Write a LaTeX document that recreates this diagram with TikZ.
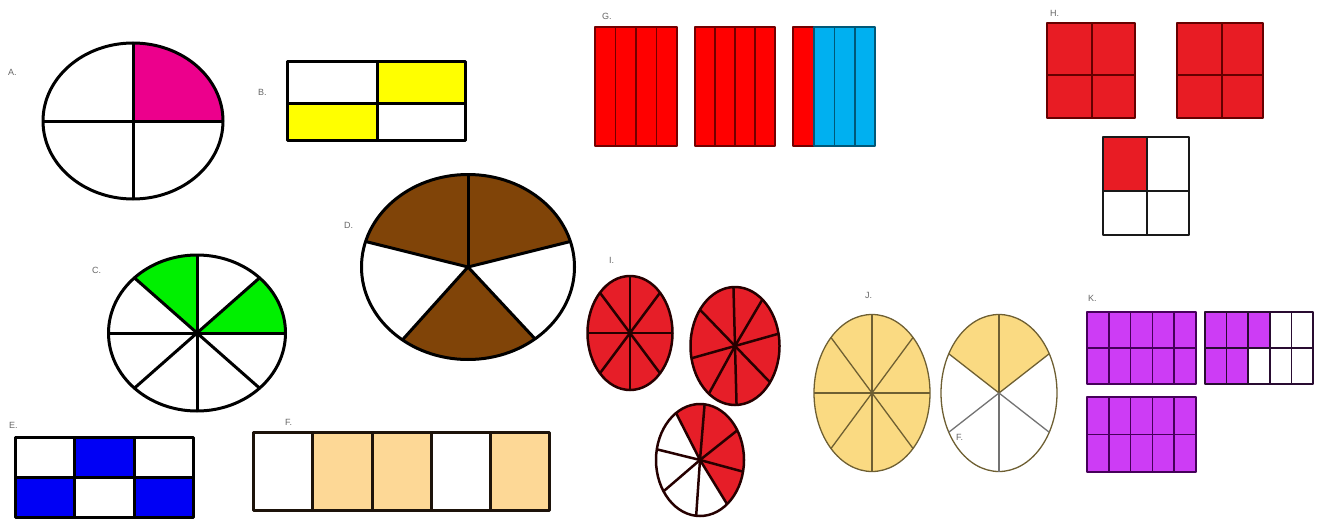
\documentclass[tikz,border=0pt]{standalone}
\usepackage{fontspec}
\setmainfont{Liberation Sans}
\definecolor{pinkA}{RGB}{236,0,140}
\definecolor{yelB}{RGB}{255,255,0}
\definecolor{grnC}{RGB}{0,240,0}
\definecolor{brnD}{RGB}{128,68,8}
\definecolor{bluE}{RGB}{0,0,245}
\definecolor{peachF}{RGB}{253,216,150}
\definecolor{redG}{RGB}{255,0,0}
\definecolor{cyanG}{RGB}{0,176,240}
\definecolor{redH}{RGB}{232,28,36}
\definecolor{redI}{RGB}{230,30,40}
\definecolor{yelJ}{RGB}{250,218,130}
\definecolor{olvJ}{RGB}{110,95,50}
\definecolor{purK}{RGB}{205,60,245}
\definecolor{dpurK}{RGB}{70,0,90}
\newcommand{\mysector}[7]{\fill[#7] (#1,#2) -- plot[domain=#5:#6,samples=40,variable=\t] ({#1+#3*cos(\t)},{#2-#4*sin(\t)}) -- cycle;}
\newcommand{\myspoke}[5]{\draw (#1,#2) -- ({#1+#3*cos(#5)},{#2-#4*sin(#5)});}
\tikzset{
  lab/.style={font=\fontsize{9}{9}\selectfont, text=black!60, inner sep=0pt, anchor=west},
  thick3/.style={line width=3pt, draw=black},
}
\begin{document}
\begin{tikzpicture}[x=1pt,y=-1pt, line join=round]
\useasboundingbox[fill=white] (0,0) rectangle (1317,519);

% ---- A ----
\node[lab] (labA) at (8,72) {A.};
\mysector{133}{121}{90}{78}{0}{90}{pinkA}
\begin{scope}[thick3]
\draw (133,121) ellipse [x radius=90pt, y radius=78pt];
\draw (43,121) -- (223,121);
\draw (133,43) -- (133,199);
\end{scope}

% ---- B ----
\node[lab] (labB) at (258,92) {B.};
\fill[yelB] (377,62) rectangle (465,103);
\fill[yelB] (287,103) rectangle (377,140);
\begin{scope}[thick3]
\draw (287,62) rectangle (465,140);
\draw (377,62) -- (377,140);
\draw (287,103) -- (465,103);
\end{scope}

% ---- C ----
\node[lab] (labC) at (92,270) {C.};
\mysector{197}{333}{88.5}{78}{0}{45}{grnC}
\mysector{197}{333}{88.5}{78}{90}{135}{grnC}
\begin{scope}[thick3]
\draw (197,333) ellipse [x radius=88.5pt, y radius=78pt];
\foreach \a in {0,45,...,315} {\myspoke{197}{333}{88.5}{78}{\a}}
\end{scope}

% ---- D ----
\node[lab] (labD) at (344,225) {D.};
\mysector{468}{267}{106.5}{92.5}{16}{90}{brnD}
\mysector{468}{267}{106.5}{92.5}{90}{164}{brnD}
\mysector{468}{267}{106.5}{92.5}{232}{309}{brnD}
\begin{scope}[thick3]
\draw (468,267) ellipse [x radius=106.5pt, y radius=92.5pt];
\foreach \a in {16,90,164,232,309} {\myspoke{468}{267}{106.5}{92.5}{\a}}
\end{scope}

% ---- E ----
\node[lab] (labE) at (9,425) {E.};
\fill[bluE] (74,437) rectangle (134,477);
\fill[bluE] (15,477) rectangle (74,517);
\fill[bluE] (134,477) rectangle (193,517);
\begin{scope}[thick3]
\draw (15,437) rectangle (193,517);
\draw (74,437) -- (74,517);
\draw (134,437) -- (134,517);
\draw (15,477) -- (193,477);
\end{scope}

% ---- F ----
\node[lab] (labF) at (285,422) {F.};
\fill[peachF] (312,432) rectangle (372,510);
\fill[peachF] (372,432) rectangle (431,510);
\fill[peachF] (490,432) rectangle (549,510);
\begin{scope}[line width=3pt, draw=black!85!brown]
\draw (253,432) rectangle (549,510);
\foreach \xx in {312,372,431,490} {\draw (\xx,432) -- (\xx,510);}
\end{scope}

% ---- G ----
\node[lab] (labG) at (602,16) {G.};
\foreach \xa/\xb in {595/677,695/775} {
  \fill[redG] (\xa,27) rectangle (\xb,146);
  \draw[line width=1.5pt, black!55!red] (\xa,27) rectangle (\xb,146);
  \foreach \k in {1,2,3} {\draw[line width=1.5pt, black!55!red] ({\xa+\k*(\xb-\xa)/4},27) -- ({\xa+\k*(\xb-\xa)/4},146);}
}
\fill[redG] (793,27) rectangle (814,146);
\fill[cyanG] (814,27) rectangle (875,146);
\draw[line width=1.5pt, black!55!red] (793,27) rectangle (814,146);
\draw[line width=1.5pt, black!50!cyanG] (814,27) rectangle (875,146);
\draw[line width=1.5pt, black!50!cyanG] (834.5,27) -- (834.5,146);
\draw[line width=1.5pt, black!50!cyanG] (855,27) -- (855,146);

% ---- H ----
\node[lab] (labH) at (1050,13) {H.};
\foreach \xa/\xm/\xb in {1047/1092/1135,1177/1222/1263} {
  \fill[redH] (\xa,23) rectangle (\xb,118);
  \draw[line width=1.8pt, black!60!red] (\xa,23) rectangle (\xb,118);
  \draw[line width=1.8pt, black!60!red] (\xm,23) -- (\xm,118);
  \draw[line width=1.8pt, black!60!red] (\xa,75) -- (\xb,75);
}
\fill[redH] (1103,137) rectangle (1147,191);
\begin{scope}[line width=1.8pt, draw=black!90]
\draw (1103,137) rectangle (1189,235);
\draw (1147,137) -- (1147,235);
\draw (1103,191) -- (1189,191);
\end{scope}

% ---- I ----
\node[lab] (labI) at (609,260) {I.};
\begin{scope}[line width=2.5pt, draw=black!85!red]
\filldraw[fill=redI] (630,333) ellipse [x radius=42.5pt, y radius=57pt];
\foreach \a in {0,45,...,315} {\myspoke{630}{333}{42.5}{57}{\a}}
\filldraw[fill=redI] (735,346) ellipse [x radius=44.5pt, y radius=59pt];
\foreach \a in {12,52,92,142,192,234,272,322} {\myspoke{735}{346}{44.5}{59}{\a}}
\end{scope}
\mysector{700}{460}{44}{56}{-52}{123}{redI}
\begin{scope}[line width=2.5pt, draw=black!85!red]
\draw (700,460) ellipse [x radius=44pt, y radius=56pt];
\foreach \a in {123,84,32,348,308,265,214,169} {\myspoke{700}{460}{44}{56}{\a}}
\end{scope}

% ---- J ----
\node[lab] (labJ) at (865,295) {J.};
\begin{scope}[line width=1.3pt, draw=olvJ]
\filldraw[fill=yelJ] (872,393) ellipse [x radius=58pt, y radius=78.5pt];
\foreach \a in {0,45,...,315} {\myspoke{872}{393}{58}{78.5}{\a}}
\end{scope}
\mysector{999}{393}{58}{78.5}{30}{150}{yelJ}
\begin{scope}[line width=1.3pt]
\draw[olvJ] (999,393) ellipse [x radius=58pt, y radius=78.5pt];
\draw[olvJ] (999,393) -- (999,314.5);
\draw[olvJ] (999,393) -- ({999+58*cos(30)},{393-78.5*sin(30)});
\draw[olvJ] (999,393) -- ({999+58*cos(150)},{393-78.5*sin(150)});
\draw[black!55] (999,393) -- ({999+58*cos(210)},{393-78.5*sin(210)});
\draw[black!55] (999,393) -- (999,471.5);
\draw[black!55] (999,393) -- ({999+58*cos(330)},{393-78.5*sin(330)});
\end{scope}
\node[lab] (labF2) at (956,437) {F.};

% ---- K ----
\node[lab] (labK) at (1088,298) {K.};
\fill[purK] (1087,312) rectangle (1196,384);
\fill[purK] (1087,397) rectangle (1196,472);
\fill[purK] (1205,312) rectangle (1269.8,348);
\fill[purK] (1205,348) rectangle (1248.2,384);
\begin{scope}[line width=1.6pt, draw=dpurK]
\foreach \ya/\ym/\yb in {312/348/384,397/434.5/472} {
  \draw (1087,\ya) rectangle (1196,\yb);
  \draw (1087,\ym) -- (1196,\ym);
  \foreach \k in {1,2,3,4} {\draw ({1087+\k*21.8},\ya) -- ({1087+\k*21.8},\yb);}
}
\end{scope}
\begin{scope}[line width=1.6pt, draw=black!80!purK]
\draw (1205,312) rectangle (1313,384);
\draw (1205,348) -- (1313,348);
\foreach \k in {1,2,3,4} {\draw ({1205+\k*21.6},312) -- ({1205+\k*21.6},384);}
\end{scope}
\end{tikzpicture}
\end{document}
